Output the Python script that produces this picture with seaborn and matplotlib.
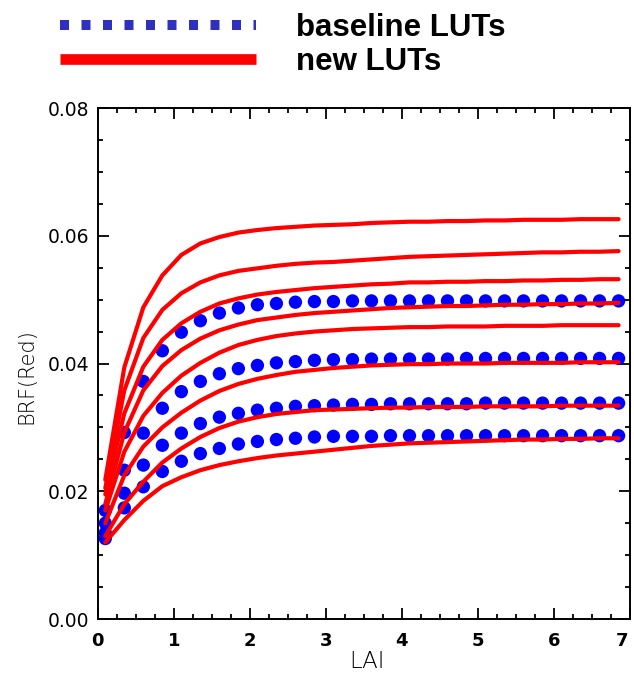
import matplotlib
matplotlib.use("Agg")
import matplotlib.pyplot as plt
import seaborn as sns
import pandas as pd
from matplotlib.lines import Line2D
from matplotlib.ticker import MultipleLocator, FormatStrFormatter
from matplotlib.transforms import ScaledTranslation

# ---------------- data ----------------
lai = [0.10, 0.35, 0.60, 0.85, 1.10, 1.35, 1.60, 1.85, 2.10, 2.35, 2.60, 2.85,
       3.10, 3.35, 3.60, 3.85, 4.10, 4.35, 4.60, 4.85, 5.10, 5.35, 5.60, 5.85,
       6.10, 6.35, 6.60, 6.85]

base_1 = [0.0170, 0.0292, 0.0372, 0.0420, 0.0449, 0.0467, 0.0479, 0.0487, 0.0492, 0.0494,
          0.0496, 0.0497, 0.0497, 0.0498, 0.0498, 0.0498, 0.0498, 0.0498, 0.0498, 0.0498,
          0.0498, 0.0498, 0.0498, 0.0498, 0.0498, 0.0498, 0.0498, 0.0498]
base_2 = [0.0150, 0.0233, 0.0291, 0.0330, 0.0356, 0.0372, 0.0384, 0.0392, 0.0397, 0.0401,
          0.0403, 0.0405, 0.0406, 0.0406, 0.0407, 0.0407, 0.0407, 0.0407, 0.0407, 0.0408,
          0.0408, 0.0408, 0.0408, 0.0408, 0.0408, 0.0408, 0.0408, 0.0408]
base_3 = [0.0135, 0.0197, 0.0241, 0.0272, 0.0291, 0.0306, 0.0316, 0.0322, 0.0327, 0.0330,
          0.0333, 0.0334, 0.0335, 0.0336, 0.0336, 0.0337, 0.0337, 0.0337, 0.0337, 0.0337,
          0.0338, 0.0338, 0.0338, 0.0338, 0.0338, 0.0338, 0.0338, 0.0338]
base_4 = [0.0126, 0.0174, 0.0207, 0.0231, 0.0247, 0.0259, 0.0267, 0.0274, 0.0278, 0.0281,
          0.0283, 0.0285, 0.0286, 0.0286, 0.0286, 0.0287, 0.0287, 0.0287, 0.0287, 0.0287,
          0.0287, 0.0287, 0.0287, 0.0287, 0.0287, 0.0287, 0.0287, 0.0287]

new_1 = [0.0218, 0.0394, 0.0488, 0.0538, 0.0570, 0.0588, 0.0598, 0.0605, 0.0609, 0.0612,
         0.0614, 0.0616, 0.0617, 0.0618, 0.0620, 0.0621, 0.0622, 0.0622, 0.0623, 0.0623,
         0.0624, 0.0624, 0.0625, 0.0625, 0.0625, 0.0626, 0.0626, 0.0626]
new_2 = [0.0205, 0.0358, 0.0440, 0.0484, 0.0510, 0.0527, 0.0538, 0.0545, 0.0549, 0.0553,
         0.0556, 0.0558, 0.0559, 0.0561, 0.0563, 0.0565, 0.0567, 0.0568, 0.0569, 0.0570,
         0.0571, 0.0572, 0.0573, 0.0574, 0.0574, 0.0575, 0.0575, 0.0576]
new_3 = [0.0195, 0.0322, 0.0395, 0.0437, 0.0463, 0.0481, 0.0494, 0.0502, 0.0508, 0.0512,
         0.0515, 0.0518, 0.0520, 0.0522, 0.0524, 0.0525, 0.0527, 0.0527, 0.0528, 0.0528,
         0.0529, 0.0529, 0.0530, 0.0530, 0.0531, 0.0531, 0.0532, 0.0532]
new_4 = [0.0180, 0.0292, 0.0358, 0.0396, 0.0421, 0.0439, 0.0452, 0.0461, 0.0468, 0.0472,
         0.0476, 0.0479, 0.0481, 0.0483, 0.0485, 0.0487, 0.0488, 0.0489, 0.0490, 0.0490,
         0.0491, 0.0492, 0.0492, 0.0493, 0.0493, 0.0494, 0.0494, 0.0495]
new_5 = [0.0170, 0.0262, 0.0318, 0.0354, 0.0381, 0.0401, 0.0417, 0.0429, 0.0437, 0.0443,
         0.0447, 0.0450, 0.0452, 0.0454, 0.0455, 0.0456, 0.0457, 0.0457, 0.0458, 0.0458,
         0.0458, 0.0459, 0.0459, 0.0459, 0.0460, 0.0460, 0.0460, 0.0460]
new_6 = [0.0150, 0.0225, 0.0270, 0.0300, 0.0323, 0.0342, 0.0357, 0.0368, 0.0376, 0.0382,
         0.0387, 0.0390, 0.0393, 0.0395, 0.0397, 0.0398, 0.0399, 0.0399, 0.0400, 0.0400,
         0.0400, 0.0401, 0.0401, 0.0401, 0.0401, 0.0402, 0.0402, 0.0402]
new_7 = [0.0130, 0.0180, 0.0215, 0.0245, 0.0267, 0.0285, 0.0299, 0.0309, 0.0316, 0.0321,
         0.0324, 0.0327, 0.0328, 0.0329, 0.0330, 0.0331, 0.0331, 0.0332, 0.0332, 0.0332,
         0.0333, 0.0333, 0.0333, 0.0333, 0.0334, 0.0334, 0.0334, 0.0334]
new_8 = [0.0120, 0.0155, 0.0185, 0.0208, 0.0222, 0.0233, 0.0241, 0.0247, 0.0252, 0.0256,
         0.0259, 0.0262, 0.0265, 0.0268, 0.0271, 0.0273, 0.0275, 0.0276, 0.0277, 0.0278,
         0.0279, 0.0280, 0.0281, 0.0281, 0.0282, 0.0282, 0.0283, 0.0283]

baseline_series = [base_1, base_2, base_3, base_4]
new_series = [new_1, new_2, new_3, new_4, new_5, new_6, new_7, new_8]
x_ticks = [0, 1, 2, 3, 4, 5, 6, 7]
x_tick_labels = ["0", "1", "2", "3", "4", "5", "6", "7"]
legend_labels = ["baseline LUTs", "new LUTs"]
x_label = "LAI"
y_label = "BRF(Red)"

# ---------------- build long tables ----------------
base_df = pd.DataFrame(
    [(x, y, i) for i, s in enumerate(baseline_series) for x, y in zip(lai, s)],
    columns=["LAI", "BRF", "curve"])
new_df = pd.DataFrame(
    [(x, y, i) for i, s in enumerate(new_series) for x, y in zip(lai, s)],
    columns=["LAI", "BRF", "curve"])

# ---------------- plot ----------------
sns.set_style("white")
plt.rcParams["font.family"] = ["DejaVu Sans"]
plt.rcParams["text.color"] = "black"
plt.rcParams["axes.labelcolor"] = "black"
plt.rcParams["xtick.color"] = "black"
plt.rcParams["ytick.color"] = "black"

fig = plt.figure(figsize=(6.34, 6.81), dpi=100)
ax = fig.add_axes([0.1541, 0.0910, 0.8396, 0.7504])

sns.scatterplot(data=base_df, x="LAI", y="BRF", color="#0000ff", s=92,
                edgecolor="none", linewidth=0, ax=ax, legend=False, zorder=2)
sns.lineplot(data=new_df, x="LAI", y="BRF", units="curve", estimator=None,
             sort=False, color="#ff0000", lw=3.0, ax=ax, legend=False, zorder=3)

ax.set_xlim(0, 7)
ax.set_ylim(0, 0.08)
ax.xaxis.set_minor_locator(MultipleLocator(0.25))
ax.yaxis.set_major_locator(MultipleLocator(0.02))
ax.yaxis.set_minor_locator(MultipleLocator(0.005))
ax.yaxis.set_major_formatter(FormatStrFormatter("%.2f"))

for sp in ax.spines.values():
    sp.set_visible(True)
    sp.set_color("black")
    sp.set_linewidth(1.4)

ax.tick_params(which="both", direction="in", top=True, right=True,
               bottom=True, left=True, color="black", width=1.3)
ax.tick_params(which="major", length=7.7)
ax.tick_params(which="minor", length=3.7)
ax.tick_params(axis="y", which="major", labelsize=13.5, pad=6, labelcolor="black")
ax.tick_params(axis="x", which="major", labelsize=13, pad=9, labelcolor="black")

ax.set_xticks(x_ticks, x_tick_labels, fontweight="bold", color="black", fontsize=13)
last = ax.get_xticklabels()[-1]
last.set_transform(last.get_transform() + ScaledTranslation(-6 / 72, 0, fig.dpi_scale_trans))

ax.set_xlabel(x_label, fontsize=16.5, fontweight="light", color="black")
ax.set_ylabel(y_label, fontsize=15, fontweight="light", color="black")
ax.xaxis.set_label_coords(0.505, -0.060)
ax.yaxis.set_label_coords(-0.116, 0.476)

handles = [
    Line2D([], [], color="#3030c0", lw=7.2, ls=(0, (0.9, 1.25)), dash_capstyle="butt"),
    Line2D([], [], color="#ff0000", lw=7.7, solid_capstyle="butt"),
]
leg = fig.legend(handles, legend_labels, loc="upper left", bbox_to_anchor=(0.094, 0.981),
                 frameon=False, handlelength=6.3, handletextpad=1.25, labelspacing=0.13,
                 borderpad=0, borderaxespad=0,
                 prop={"family": "Liberation Sans", "weight": "bold", "size": 22.5})
for t in leg.get_texts():
    t.set_color("black")

fig.savefig("out.png", dpi=100, facecolor="white")
